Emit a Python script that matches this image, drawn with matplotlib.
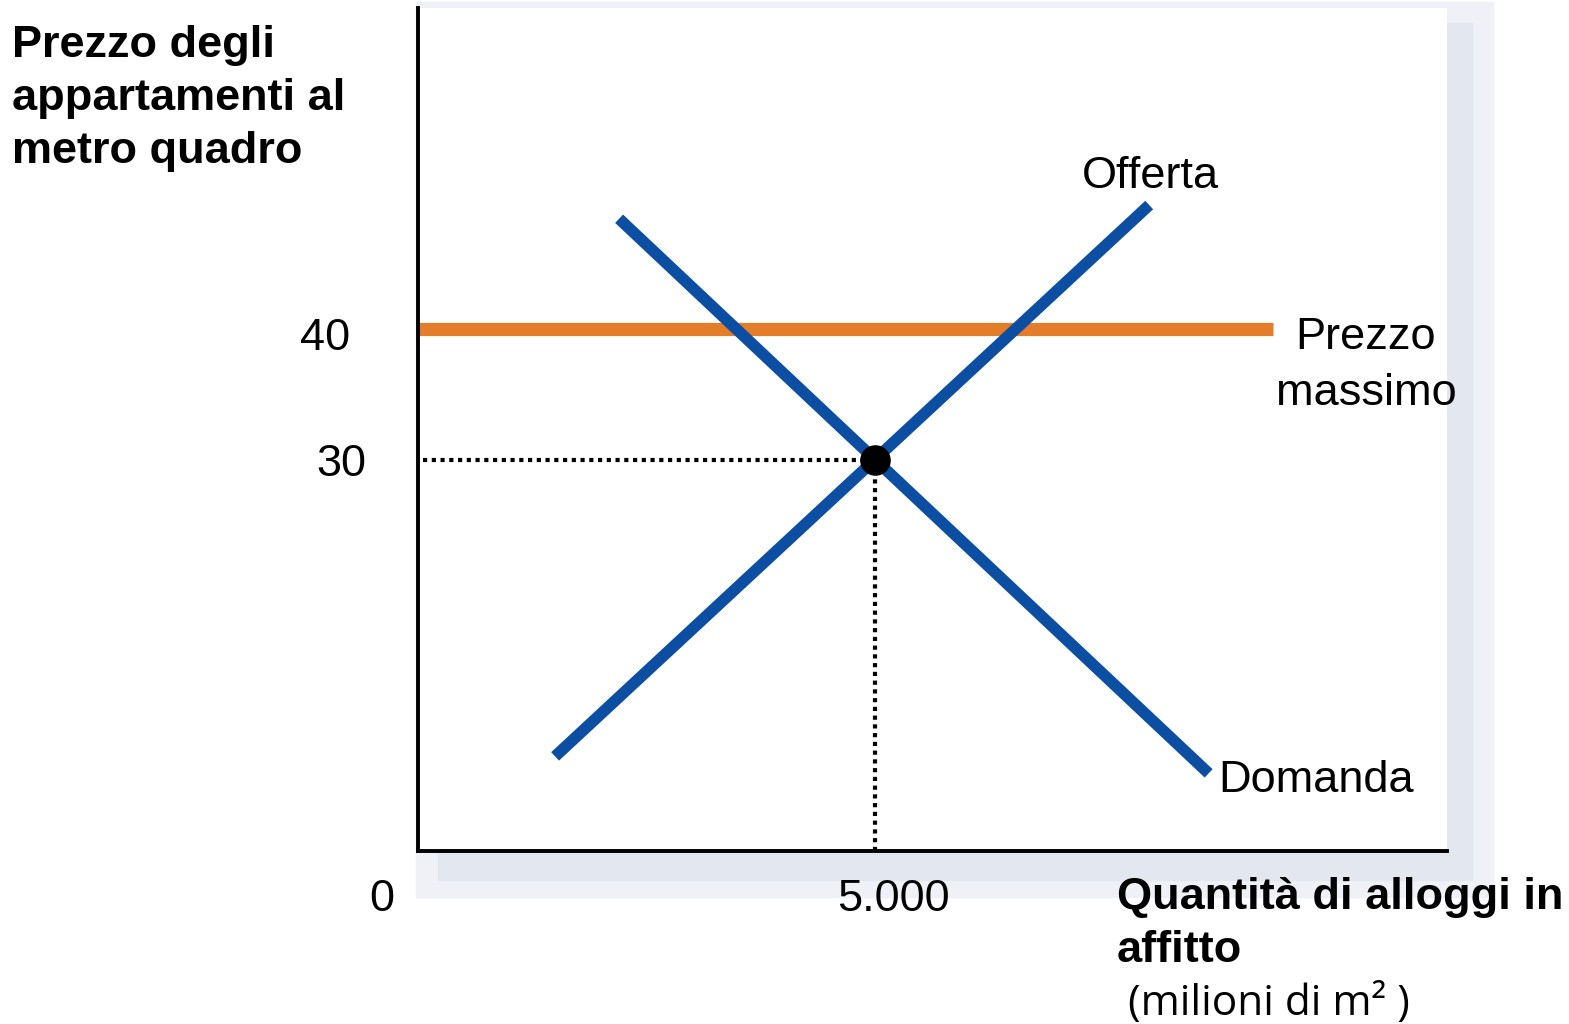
import matplotlib.pyplot as plt
from matplotlib.patches import Rectangle

plt.rcParams['font.family'] = ['Liberation Sans', 'DejaVu Sans']

# curve end points (quantity, price)
supply_q = [1500, 8000]
supply_p = [7.25, 49.5]
demand_q = [2200, 8650]
demand_p = [48.45, 5.95]
ceiling_q = [0, 9350]
ceiling_p = [40, 40]
eq_q = 5000
eq_p = 30

blue = '#0B4EA2'
orange = '#E37D2A'
W, H = 1569, 1024

fig = plt.figure(figsize=(W / 100, H / 100), dpi=100)


def px(x0, y0, x1, y1):
    # pixel box -> figure fraction rect
    return (x0 / W, 1 - y1 / H, (x1 - x0) / W, (y1 - y0) / H)


# soft shadow behind the plot area
for (x0, y0, x1, y1), c in [((416, 2, 1493, 897), '#eff1f6'),
                            ((438, 23, 1472, 880), '#e3e7f0')]:
    l, b, w, h = px(x0, y0, x1, y1)
    fig.patches.append(Rectangle((l, b), w, h, transform=fig.transFigure,
                                 color=c, zorder=-10))

ax = fig.add_axes(px(418, 8, 1447, 851))
ax.set_zorder(5)
ax.set_facecolor('white')
ax.set_xlim(0, 11258)
ax.set_ylim(0, 64.6)
ax.set_xticks([])
ax.set_yticks([])
for s in ['top', 'right']:
    ax.spines[s].set_visible(False)
for s in ['left', 'bottom']:
    ax.spines[s].set_linewidth(2.8)

ax.plot(ceiling_q, ceiling_p, color=orange, lw=9.5, solid_capstyle='butt')
ax.plot(supply_q, supply_p, color=blue, lw=8.3, solid_capstyle='butt')
ax.plot(demand_q, demand_p, color=blue, lw=8.3, solid_capstyle='butt')

ax.plot([60, eq_q], [eq_p, eq_p], color='black', lw=3.0,
        dashes=(1, 1.1), zorder=1)
ax.plot([eq_q, eq_q], [0, eq_p], color='black', lw=3.0,
        dashes=(1, 1.1), zorder=1)
ax.plot(eq_q, eq_p, 'o', color='black', markersize=21, zorder=5)

fs = 32.5
kw = dict(fontsize=fs, clip_on=False)
ax.text(-1018, 39.3, '40', ha='center', va='center', **kw)
ax.text(-842, 29.6, '30', ha='center', va='center', **kw)
ax.text(-394, -3.7, '0', ha='center', va='center', **kw)
ax.text(5197, -3.7, '5.000', ha='center', va='center', **kw)
ax.text(7265, 51.7, 'Offerta', ha='left', va='center', **kw)
ax.text(10370, 37.2, 'Prezzo\nmassimo', ha='center', va='center',
        linespacing=1.45, **kw)
ax.text(8753, 5.4, 'Domanda', ha='left', va='center', **kw)

fig.text(12 / W, 1 - 25 / H, 'Prezzo degli\nappartamenti al\nmetro quadro',
         fontsize=32.5, fontweight='bold', ha='left', va='top',
         linespacing=1.38)
fig.text(1117 / W, 1 - 877 / H, 'Quantità di alloggi in\naffitto',
         fontsize=32.5, fontweight='bold', ha='left', va='top',
         linespacing=1.38)
fig.text(1128 / W, 1 - 1004 / H, '(milioni di m² )', fontsize=30.5,
         family=['Open Sans', 'DejaVu Sans'], ha='left', va='center')

fig.savefig('out.png', dpi=100)
